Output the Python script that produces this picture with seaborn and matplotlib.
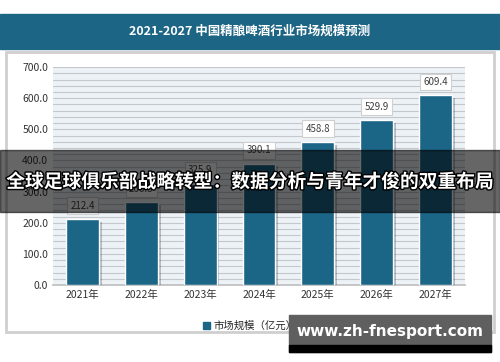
import matplotlib
matplotlib.use("Agg")
import matplotlib.pyplot as plt
import matplotlib.patches as mpatches
import matplotlib.patheffects as pe
from matplotlib.ticker import MultipleLocator, FormatStrFormatter
import seaborn as sns
import pandas as pd

years = ["2021年", "2022年", "2023年", "2024年", "2025年", "2026年", "2027年"]
market_size = [212.4, 266.3, 325.9, 390.1, 458.8, 529.9, 609.4]
title = "2021-2027 中国精酿啤酒行业市场规模预测"
legend_label = "市场规模（亿元）"
overlay_text = "全球足球俱乐部战略转型：数据分析与青年才俊的双重布局"
watermark = "www.zh-fnesport.com"

bar_color = "#1b6587"

sns.set_theme(style="white")
plt.rcParams["font.family"] = ["Noto Sans CJK SC", "DejaVu Sans"]

df = pd.DataFrame({"year": years, "value": market_size})

fig = plt.figure(figsize=(5, 3.62), dpi=100)
fig.patch.set_facecolor("white")

# title banner
fig.add_artist(mpatches.Rectangle((0, 0.865), 1, 0.097, transform=fig.transFigure,
                                  color="#1d6585", zorder=0))
fig.text(0.5, 0.913, title, ha="center", va="center", color="white",
         fontsize=9, fontweight="bold")

# card panel
fig.add_artist(mpatches.Rectangle((0.012, 0.083), 0.976, 0.773, transform=fig.transFigure,
                                  facecolor="white", edgecolor="#cfcfcf", linewidth=2, zorder=0))

ax = fig.add_axes([0.106, 0.2127, 0.824, 0.602])
ax.set_facecolor("#edf2f7")
sns.barplot(data=df, x="year", y="value", color=bar_color, width=0.56,
            saturation=1, ax=ax, zorder=3)
for p in ax.patches:
    p.set_path_effects([pe.SimplePatchShadow(offset=(2, -2), alpha=0.25), pe.Normal()])

ax.bar_label(ax.containers[0], fmt="%.1f", padding=6, fontsize=7, color="#404040",
             bbox=dict(boxstyle="square,pad=0.35", fc="white", ec="#d0d0d0", lw=0.8))

ax.set_ylim(0, 700)
ax.yaxis.set_major_locator(MultipleLocator(100))
ax.yaxis.set_minor_locator(MultipleLocator(20))
ax.yaxis.set_major_formatter(FormatStrFormatter("%.1f"))
ax.grid(axis="y", which="both", color="#c4c8cc", linewidth=0.8, zorder=0)
ax.set_axisbelow(True)
ax.set_xlabel("")
ax.set_ylabel("")
ax.tick_params(axis="both", labelsize=7.5, colors="#333333", length=0)
for s in ["top", "right", "left"]:
    ax.spines[s].set_visible(False)
ax.spines["bottom"].set_color("#bfbfbf")

handle = mpatches.Patch(color=bar_color, label=legend_label)
fig.legend(handles=[handle], loc="center", bbox_to_anchor=(0.5, 0.099), frameon=False,
           fontsize=7.5, handlelength=0.6, handleheight=0.6, handletextpad=0.4)

# overlay band and headline
fig.add_artist(mpatches.Rectangle((0, 0.414), 1, 0.171, transform=fig.transFigure,
                                  color="black", alpha=0.6, zorder=5))
fig.text(0.5, 0.497, overlay_text, ha="center", va="center", color="white",
         fontsize=13.5, fontweight="bold", zorder=6,
         path_effects=[pe.withStroke(linewidth=2, foreground="black")])

# watermark
fig.add_artist(mpatches.Rectangle((0.578, 0.028), 0.404, 0.102, transform=fig.transFigure,
                                  color="#5f5f5f", zorder=5))
fig.add_artist(mpatches.Rectangle((0.578, 0.028), 0.404, 0.02, transform=fig.transFigure,
                                  color="black", zorder=5))
fig.text(0.78, 0.085, watermark, ha="center", va="center", color="white",
         fontsize=11, fontweight="bold", family="DejaVu Sans", zorder=6)

fig.savefig("out.png", dpi=100)
